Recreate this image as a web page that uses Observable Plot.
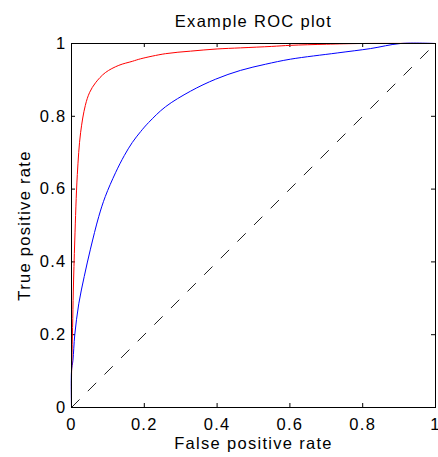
<!DOCTYPE html>
<html>
<head>
<meta charset="utf-8">
<script src="https://cdn.jsdelivr.net/npm/d3@7"></script>
<script src="https://cdn.jsdelivr.net/npm/@observablehq/plot@0.6"></script>
<style>
  html, body { margin: 0; padding: 0; background: #fff; }
</style>
</head>
<body>
<div id="chart"></div>
<script>
// ---- data ----
const title = "Example ROC plot";
const xLabel = "False positive rate";
const yLabel = "True positive rate";
const xTicks = [0, 0.2, 0.4, 0.6, 0.8, 1];
const xTickLabels = ["0", "0.2", "0.4", "0.6", "0.8", "1"];
const yTicks = [0, 0.2, 0.4, 0.6, 0.8, 1];
const yTickLabels = ["0", "0.2", "0.4", "0.6", "0.8", "1"];

const redFpr = [0, 0, 0.001, 0.003, 0.005, 0.009, 0.016, 0.025, 0.038, 0.05, 0.066, 0.093, 0.13, 0.167, 0.19, 0.258, 0.327, 0.4, 0.464, 0.55, 0.602, 0.7, 0.8, 1];
const redTpr = [0, 0.08, 0.13, 0.22, 0.32, 0.46, 0.64, 0.755, 0.83, 0.866, 0.892, 0.92, 0.94, 0.951, 0.958, 0.972, 0.979, 0.985, 0.988, 0.992, 0.995, 0.998, 1, 1];

const blueFpr = [0, 0, 0.004, 0.009, 0.02, 0.035, 0.052, 0.075, 0.093, 0.121, 0.145, 0.167, 0.19, 0.212, 0.258, 0.327, 0.396, 0.464, 0.533, 0.602, 0.73, 0.821, 0.904, 1];
const blueTpr = [0, 0.1, 0.13, 0.2, 0.285, 0.36, 0.435, 0.525, 0.58, 0.645, 0.692, 0.728, 0.758, 0.783, 0.826, 0.869, 0.902, 0.926, 0.943, 0.957, 0.974, 0.986, 1, 1];

const chanceFpr = [0, 1];
const chanceTpr = [0, 1];

// ---- build ----
const red = redFpr.map((x, i) => ({x, y: redTpr[i]}));
const blue = blueFpr.map((x, i) => ({x, y: blueTpr[i]}));
const chance = chanceFpr.map((x, i) => ({x, y: chanceTpr[i]}));

const W = 438, H = 457;
const mL = 71, mR = 3, mT = 43, mB = 50;
const innerW = W - mL - mR, innerH = H - mT - mB;
const tickPx = 4;
const tlx = tickPx / innerW, tly = tickPx / innerH;
const fs = 16.5;
const font = "'Liberation Sans', Arial, Helvetica, sans-serif";

const chart = Plot.plot({
  width: W,
  height: H,
  marginLeft: mL,
  marginRight: mR,
  marginTop: mT,
  marginBottom: mB,
  style: {fontFamily: font, fontSize: fs + "px", letterSpacing: "1.3px", color: "black", background: "white", overflow: "visible"},
  x: {domain: [0, 1]},
  y: {domain: [0, 1]},
  marks: [
    Plot.axisX({anchor: "bottom", ticks: xTicks, tickSize: 0, tickPadding: 11, tickFormat: (d, i) => xTickLabels[i], label: null, fontSize: fs}),
    Plot.axisY({anchor: "left", ticks: yTicks, tickSize: 0, tickPadding: 5, tickFormat: (d, i) => yTickLabels[i], label: null, fontSize: fs}),
    // inward ticks on all four sides
    Plot.ruleX(xTicks, {x: d => d, y1: 0, y2: tly, stroke: "black"}),
    Plot.ruleX(xTicks, {x: d => d, y1: 1 - tly, y2: 1, stroke: "black"}),
    Plot.ruleY(yTicks, {y: d => d, x1: 0, x2: tlx, stroke: "black"}),
    Plot.ruleY(yTicks, {y: d => d, x1: 1 - tlx, x2: 1, stroke: "black"}),
    Plot.line(chance, {x: "x", y: "y", stroke: "#222", strokeWidth: 1, strokeDasharray: "11,12.5"}),
    Plot.line(blue, {x: "x", y: "y", stroke: "#0000ff", strokeWidth: 1, curve: "catmull-rom"}),
    Plot.line(red, {x: "x", y: "y", stroke: "#ff0000", strokeWidth: 1, curve: "catmull-rom"}),
    Plot.frame({stroke: "black", strokeWidth: 1}),
    Plot.text([title], {frameAnchor: "top", lineAnchor: "middle", textAnchor: "middle", dy: -21.3, fontSize: fs, fill: "black"}),
    Plot.text([xLabel], {frameAnchor: "bottom", lineAnchor: "middle", textAnchor: "middle", dy: 36.7, fontSize: fs, fill: "black"}),
    Plot.text([yLabel], {frameAnchor: "left", lineAnchor: "middle", textAnchor: "middle", dx: -46.3, rotate: -90, fontSize: fs, fill: "black"})
  ]
});
document.getElementById("chart").appendChild(chart);
</script>
</body>
</html>
